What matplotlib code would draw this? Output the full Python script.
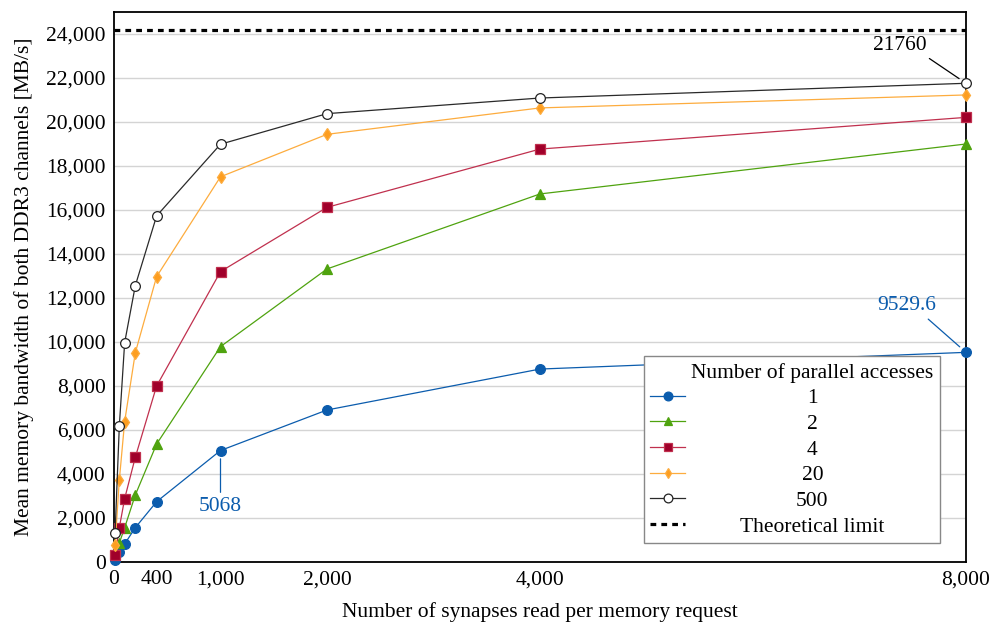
import numpy as np
import matplotlib
matplotlib.use("Agg")
import matplotlib.pyplot as plt
from matplotlib.lines import Line2D
from matplotlib.ticker import FuncFormatter

plt.rcParams["font.family"] = ["Liberation Serif", "DejaVu Serif"]
plt.rcParams["font.size"] = 15.5

# synapses per memory request
synapses = [10, 50, 100, 200, 400, 1000, 2000, 4000, 8000]

# mean bandwidth [MB/s] per number of parallel accesses
bw_1 = [90, 440, 820, 1560, 2740, 5068, 6910, 8770, 9529.6]
bw_2 = [400, 860, 1560, 3045, 5360, 9790, 13320, 16730, 19000]
bw_4 = [320, 1560, 2880, 4760, 8000, 13200, 16120, 18770, 20210]
bw_20 = [770, 3730, 6380, 9510, 12970, 17510, 19440, 20640, 21230]
bw_500 = [1320, 6180, 9970, 12560, 15730, 18990, 20380, 21090, 21760]
theoretical_limit = 24200

series = [
    ("1", bw_1, "#0b5cad", "o", "#0b5cad", 7),
    ("2", bw_2, "#4fa30f", "^", "#4fa30f", 6.5),
    ("4", bw_4, "#c0304e", "s", "#a0002a", 7),
    ("20", bw_20, "#fdac3e", "d", "#fd9e20", 6),
    ("500", bw_500, "#2a2a2a", "o", "white", 7),
]

fig = plt.figure(figsize=(9.92, 6.23), dpi=100)
ax = fig.add_axes([114 / 992, 1 - 562 / 623, 852 / 992, 550 / 623])

handles = []
for label, vals, color, marker, face, ms in series:
    ln, = ax.plot(synapses, vals, color=color, lw=0.9, marker=marker, ms=ms,
                  markerfacecolor=face, markeredgecolor=color if face != "white" else "#222222",
                  markeredgewidth=0.9, clip_on=False, zorder=3)
    handles.append(ln)

lim = ax.axhline(theoretical_limit, color="black", lw=2.3, dashes=(1.8, 1.6), zorder=2)
handles.append(lim)

ax.set_xlim(0, 8000)
ax.set_ylim(0, 25000)
ax.set_xticks([0, 400, 1000, 2000, 4000, 8000])
ax.set_yticks(np.arange(0, 24001, 2000))
fmt = FuncFormatter(lambda v, p: f"{int(v):,}")
ax.xaxis.set_major_formatter(fmt)
ax.yaxis.set_major_formatter(fmt)
ax.tick_params(length=0, pad=6, labelsize=15.5)
ax.grid(axis="y", color="#d4d4d4", lw=1)
ax.set_axisbelow(True)
for sp in ax.spines.values():
    sp.set_linewidth(1.3)

ax.set_xlabel("Number of synapses read per memory request", fontsize=15.5, labelpad=9)
ax.set_ylabel("Mean memory bandwidth of both DDR3 channels [MB/s]", fontsize=15.5, labelpad=9)

# value annotations
ax.annotate("21760", xy=(8000, 21760), xytext=(7380, 23480), ha="center", va="center",
            fontsize=15.5, color="black",
            arrowprops=dict(arrowstyle="-", color="black", lw=0.9, relpos=(0.95, 0),
                            shrinkA=1, shrinkB=6))
ax.annotate("9529.6", xy=(8000, 9529.6), xytext=(7440, 11640), ha="center", va="center",
            fontsize=15.5, color="#0b5cad",
            arrowprops=dict(arrowstyle="-", color="#0b5cad", lw=0.9, relpos=(0.8, 0),
                            shrinkA=1, shrinkB=6))
ax.annotate("5068", xy=(1000, 5068), xytext=(1000, 2545), ha="center", va="center",
            fontsize=15.5, color="#0b5cad",
            arrowprops=dict(arrowstyle="-", color="#0b5cad", lw=0.9, relpos=(0.5, 1),
                            shrinkA=1, shrinkB=6))

# legend: title as first row so every label sits in the same centred column
title_handle = Line2D([], [], linestyle="none")
labels = ["Number of parallel accesses"] + [s[0] for s in series] + ["Theoretical limit"]
leg = ax.legend([title_handle] + handles, labels, loc="lower right",
                bbox_to_anchor=(0.9695, 0.0345), fontsize=15.5, frameon=True,
                fancybox=False, framealpha=1, edgecolor="#888888",
                handlelength=1.6, handletextpad=0.3, labelspacing=0.26,
                borderpad=0.3, borderaxespad=0, markerscale=0.9)
leg.get_frame().set_linewidth(1.0)

fig.canvas.draw()
renderer = fig.canvas.get_renderer()
texts = leg.get_texts()
ref = texts[0].get_window_extent(renderer)
center = (ref.x0 + ref.x1) / 2
for t in texts[1:]:
    bb = t.get_window_extent(renderer)
    t.set_x(center - (bb.x0 + bb.x1) / 2)

fig.savefig("out.png", dpi=100)
